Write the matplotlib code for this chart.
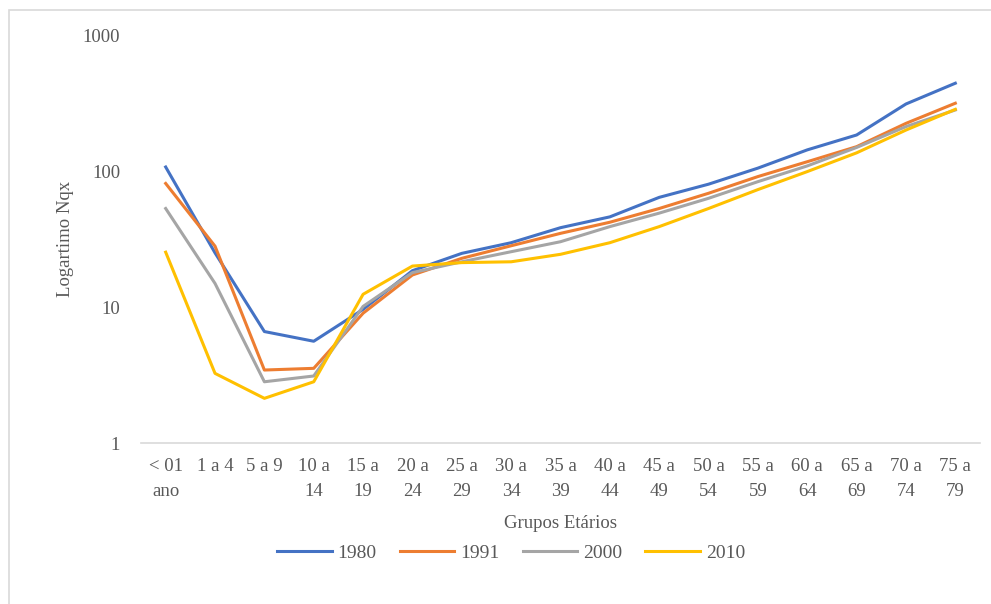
import matplotlib.pyplot as plt
from matplotlib.patches import Rectangle

plt.rcParams['font.family'] = ['Liberation Serif', 'DejaVu Serif']

grupos = ['< 01\nano', '1 a 4', '5 a 9', '10 a\n14', '15 a\n19', '20 a\n24', '25 a\n29',
          '30 a\n34', '35 a\n39', '40 a\n44', '45 a\n49', '50 a\n54', '55 a\n59',
          '60 a\n64', '65 a\n69', '70 a\n74', '75 a\n79']

nqx_1980 = [107, 25, 6.6, 5.6, 9.6, 18.5, 24.8, 29.7, 38.3, 46, 64, 80, 105, 143, 184, 311, 442]
nqx_1991 = [81, 28, 3.44, 3.54, 9.0, 17.2, 22.8, 28.2, 34.8, 42, 53, 68.6, 91, 117, 151, 224, 315]
nqx_2000 = [53, 14.9, 2.82, 3.11, 10.1, 17.9, 21.5, 25.5, 30.2, 39, 49, 63, 83.5, 109, 149, 212, 281]
nqx_2010 = [25.3, 3.25, 2.13, 2.82, 12.4, 20, 21.2, 21.5, 24.4, 29.7, 39, 53, 73, 99, 136, 200, 284]

series = [('1980', nqx_1980, '#4472C4'),
          ('1991', nqx_1991, '#ED7D31'),
          ('2000', nqx_2000, '#A5A5A5'),
          ('2010', nqx_2010, '#FFC000')]

txt = '#595959'
fs = 13.5
fig = plt.figure(figsize=(9.91, 6.04), dpi=100)
ax = fig.add_axes([141 / 991, 1 - 443 / 604, 839 / 991, 408 / 604])

x = list(range(len(grupos)))
for nome, vals, cor in series:
    ax.plot(x, vals, color=cor, lw=2.2, label=nome, solid_joinstyle='round')

ax.set_yscale('log')
ax.set_ylim(1, 1000)
ax.set_xlim(-0.5, len(grupos) - 0.5)
ax.set_yticks([1, 10, 100, 1000])
ax.set_yticklabels(['1', '10', '100', '1000'])
ax.minorticks_off()
ax.set_xticks(x)
ax.set_xticklabels(grupos, linespacing=1.6)
ax.tick_params(axis='both', length=0, labelsize=fs, colors=txt)
ax.tick_params(axis='x', pad=11)
ax.tick_params(axis='y', pad=15)

for s in ['top', 'right', 'left']:
    ax.spines[s].set_visible(False)
ax.spines['bottom'].set_color('#d9d9d9')
ax.spines['bottom'].set_linewidth(1.2)

ax.set_ylabel('Logartimo Nqx', fontsize=fs, color=txt, labelpad=6)
ax.set_xlabel('Grupos Etários', fontsize=fs, color=txt, labelpad=11)

fig.legend(loc='center', bbox_to_anchor=(511 / 991, 1 - 553 / 604), ncol=4,
           frameon=False, fontsize=14, labelcolor=txt, handlelength=2.8,
           columnspacing=1.2, handletextpad=0.3)

fig.patches.append(Rectangle((9 / 991, -0.01), 1.0, 1 - 10 / 604 + 0.01,
                             transform=fig.transFigure, fill=False,
                             edgecolor='#d9d9d9', lw=1.2))

fig.savefig('out.png', dpi=100)
